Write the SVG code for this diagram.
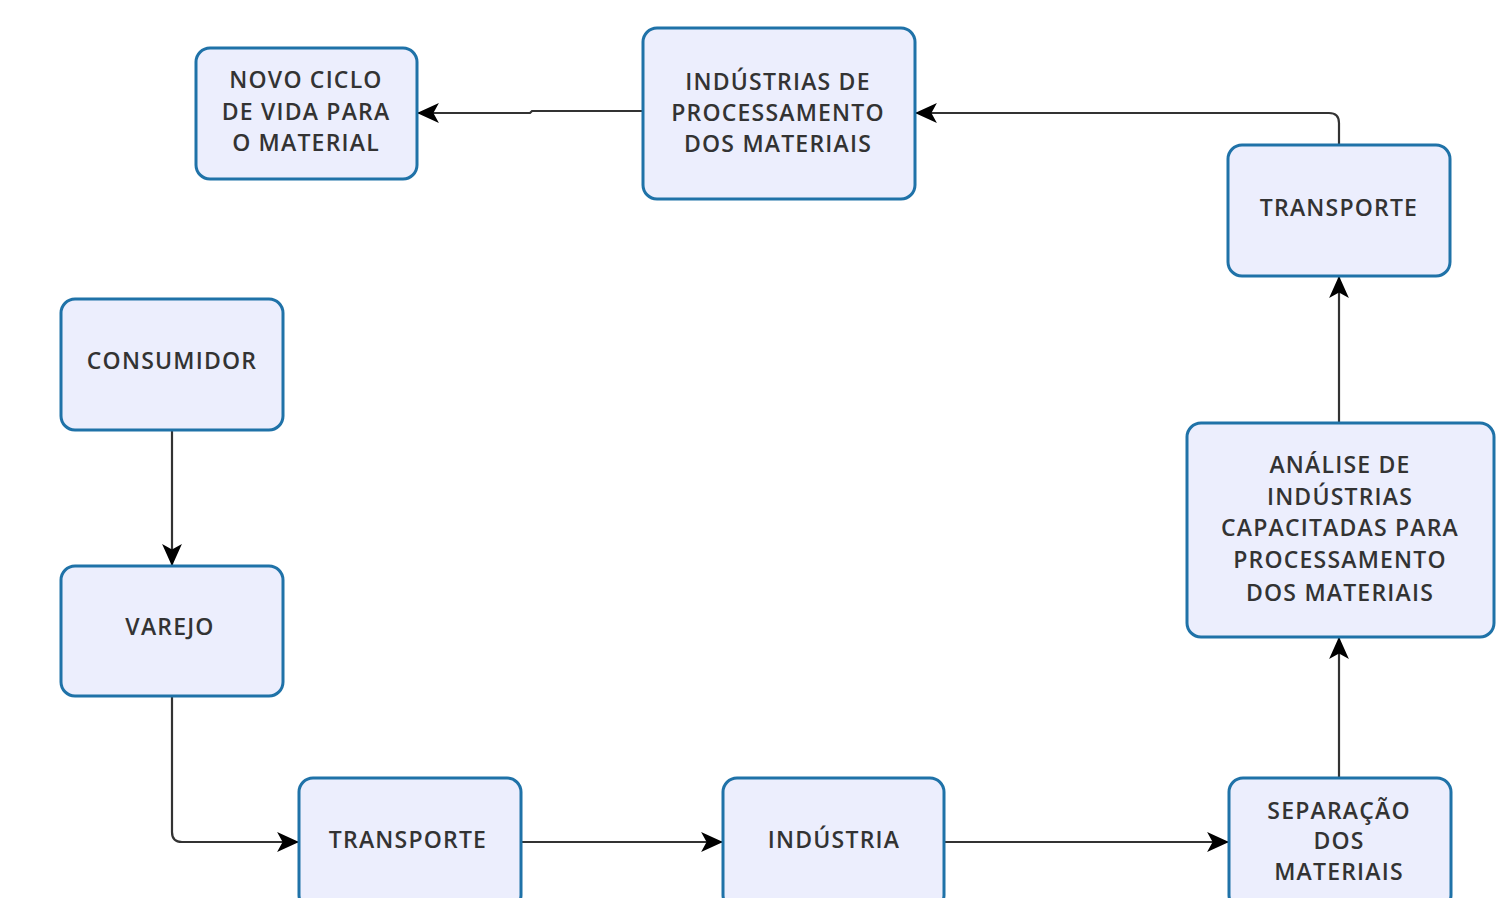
<svg xmlns="http://www.w3.org/2000/svg" width="1499" height="898" viewBox="0 0 1499 898">
<style>
.node rect{fill:#eceefd;stroke:#1f72a8;stroke-width:3}
.node text{font-family:"Open Sans","Noto Sans",sans-serif;font-size:23px;font-weight:600;fill:#333;text-anchor:middle;letter-spacing:1.2px}
.edge{fill:none;stroke:#333;stroke-width:2.2}
</style>
<defs>
<marker id="arr" viewBox="0 0 20 20" refX="19" refY="10" markerWidth="22" markerHeight="22" markerUnits="userSpaceOnUse" orient="auto">
<path d="M0,1 L20,10 L0,19 L5,10 Z" fill="#000"/>
</marker>
</defs>
<rect width="1499" height="898" fill="#fff"/>
<g id="connectors">
<path class="edge" d="M643,111 L532,111 L530,113 L418,113" marker-end="url(#arr)"/>
<path class="edge" d="M1339,145 L1339,123 Q1339,113 1329,113 L916,113" marker-end="url(#arr)"/>
<path class="edge" d="M1339,423 L1339,277" marker-end="url(#arr)"/>
<path class="edge" d="M1339,778 L1339,638" marker-end="url(#arr)"/>
<path class="edge" d="M172,430 L172,565" marker-end="url(#arr)"/>
<path class="edge" d="M172,696 L172,832 Q172,842 182,842 L298,842" marker-end="url(#arr)"/>
<path class="edge" d="M521,842 L722,842" marker-end="url(#arr)"/>
<path class="edge" d="M944,842 L1228,842" marker-end="url(#arr)"/>
</g>
<g id="novo" class="node">
<rect x="196" y="48" width="221" height="131" rx="14"/>
<text x="306" y="88">NOVO CICLO</text>
<text x="306" y="120">DE VIDA PARA</text>
<text x="306" y="151">O MATERIAL</text>
</g>
<g id="industrias" class="node">
<rect x="643" y="28" width="272" height="171" rx="14"/>
<text x="778" y="90">INDÚSTRIAS DE</text>
<text x="778" y="121">PROCESSAMENTO</text>
<text x="778" y="152">DOS MATERIAIS</text>
</g>
<g id="transporte2" class="node">
<rect x="1228" y="145" width="222" height="131" rx="14"/>
<text x="1339" y="216">TRANSPORTE</text>
</g>
<g id="consumidor" class="node">
<rect x="61" y="299" width="222" height="131" rx="14"/>
<text x="172" y="369">CONSUMIDOR</text>
</g>
<g id="varejo" class="node">
<rect x="61" y="566" width="222" height="130" rx="14"/>
<text x="170" y="635">VAREJO</text>
</g>
<g id="analise" class="node">
<rect x="1187" y="423" width="307" height="214" rx="14"/>
<text x="1340" y="473">ANÁLISE DE</text>
<text x="1340" y="505">INDÚSTRIAS</text>
<text x="1340" y="536">CAPACITADAS PARA</text>
<text x="1340" y="568">PROCESSAMENTO</text>
<text x="1340" y="601">DOS MATERIAIS</text>
</g>
<g id="transporte1" class="node">
<rect x="299" y="778" width="222" height="131" rx="14"/>
<text x="408" y="848">TRANSPORTE</text>
</g>
<g id="industria" class="node">
<rect x="723" y="778" width="221" height="131" rx="14"/>
<text x="834" y="848">INDÚSTRIA</text>
</g>
<g id="separacao" class="node">
<rect x="1229" y="778" width="222" height="131" rx="14"/>
<text x="1339" y="819">SEPARAÇÃO</text>
<text x="1339" y="849">DOS</text>
<text x="1339" y="880">MATERIAIS</text>
</g>
</svg>
